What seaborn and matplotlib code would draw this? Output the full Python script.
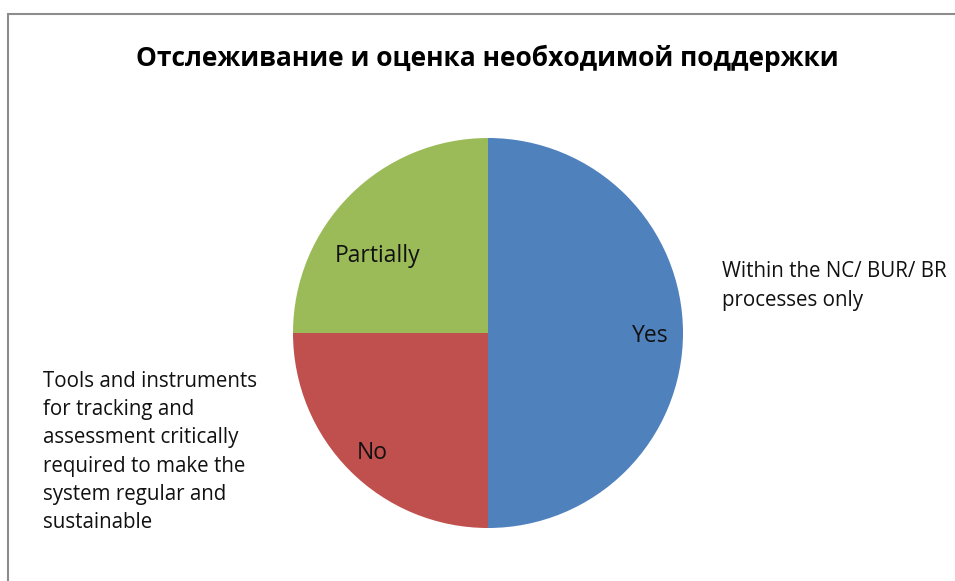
import matplotlib
matplotlib.use("Agg")
import matplotlib.pyplot as plt
from matplotlib.patches import Rectangle
import seaborn as sns

title = "Отслеживание и оценка необходимой поддержки"
categories = ["Yes", "No", "Partially"]
values = [50, 25, 25]
colors = ["#4F81BD", "#C0504D", "#9BBB59"]
note_right = "Within the NC/ BUR/ BR\nprocesses only"
note_left = ("Tools and instruments\nfor tracking and\nassessment critically\n"
             "required to make the\nsystem regular and\nsustainable")

sns.set_theme(style="white")
plt.rcParams['font.family'] = ['Open Sans', 'DejaVu Sans']

W, H = 955, 581
fig = plt.figure(figsize=(W / 100, H / 100), dpi=100)
fig.patch.set_facecolor("white")
ax = fig.add_axes([0, 0, 1, 1])

# outer chart frame
fig.patches.append(Rectangle((7.5 / W, -0.1), 1.2, (H - 14) / H + 0.1,
                             transform=fig.transFigure, fill=False,
                             edgecolor="#8c8c8c", linewidth=1.5))

wedges, texts = ax.pie(values, labels=categories, colors=colors,
                       startangle=90, counterclock=False,
                       center=(488, H - 333), radius=195,
                       labeldistance=0.8, frame=True,
                       textprops=dict(fontsize=16.5, color="#111111"),
                       wedgeprops=dict(linewidth=0))
ax.set_xlim(0, W)
ax.set_ylim(0, H)
ax.set_aspect("equal")
ax.axis("off")
label_pos = {"Yes": (650, 336), "No": (372, 453), "Partially": (378, 256)}
for t in texts:
    x, y = label_pos[t.get_text()]
    t.set_position((x, H - y))
    t.set_ha("center")
    t.set_va("center")

fig.text(487 / W, 1 - 58 / H, title, ha="center", va="center",
         fontsize=19, fontweight="bold", color="black")
fig.text(722 / W, 1 - 286 / H, note_right, ha="left", va="center",
         fontsize=14.8, color="#111111", linespacing=1.44)
fig.text(43 / W, 1 - 452 / H, note_left, ha="left", va="center",
         fontsize=14.8, color="#111111", linespacing=1.44)

fig.savefig("out.png", dpi=100)
